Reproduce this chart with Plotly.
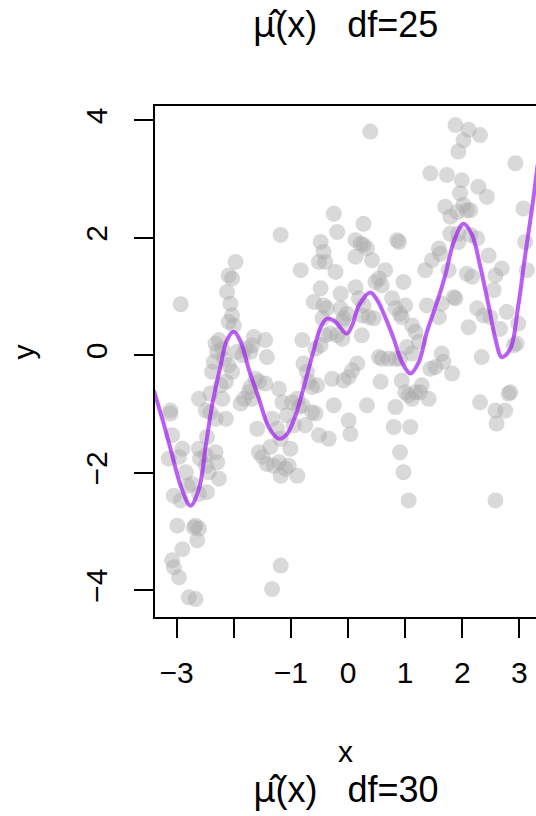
import plotly.graph_objects as go

# ---- data ----
x_pts = [-3.11, -3.11, -3.08, -2.93, -2.90, -3.14, -2.96, -3.05, -2.93, -2.84,
         -2.81, -2.73, -2.61, -2.47, -2.59, -2.49, -2.44, -2.49, -2.32, -2.29,
         -2.26, -2.47, -2.61, -2.99, -2.67, -2.70, -2.61, -2.64, -2.90, -3.08,
         -3.05, -2.96, -2.79, -2.67, -2.61, -2.41, -2.49, -2.20, -2.14, -2.32,
         -2.41, -2.38, -2.35, -2.29, -2.32, -2.26, -2.20, -2.17, -2.23, -2.14,
         -2.03, -2.09, -2.03, -1.97, -2.12, -2.06, -2.03, -2.09, -2.00, -2.09,
         -1.88, -1.82, -1.74, -1.94, -1.85, -1.79, -1.71, -1.65, -1.45, -1.42,
         -1.68, -1.62, -1.56, -1.45, -1.71, -1.68, -1.59, -1.56, -1.50, -1.42,
         -1.30, -1.21, -1.18, -1.10, -1.04, -1.01, -0.89, -1.36, -1.33, -1.24,
         -1.18, -1.21, -1.15, -1.07, -1.18, -1.18, -1.33, -0.98, -0.89, -0.86,
         -0.80, -0.75, -0.95, -0.63, -0.57, -0.83, -0.80, -0.78, -0.72, -0.69,
         -0.63, -0.54, -0.60, -0.48, -0.51, -0.48, -0.43, -0.40, -0.51, -0.34,
         -0.43, -0.45, -0.37, -0.57, -0.48, -0.40, -0.31, -0.25, -0.19, -0.22,
         -0.13, -0.13, -0.08, -0.02, -0.19, -0.10, -0.10, -0.28, -0.25, -0.08,
         0.01, 0.07, 0.16, 0.01, 0.04, 0.27, 0.13, 0.22, 0.27, 0.13,
         0.33, 0.42, 0.13, 0.19, 0.27, 0.24, 0.36, 0.45, 0.24, 0.48,
         0.54, 0.65, 0.59, 0.54, 0.59, 0.71, 0.83, 0.57, 0.33, 0.39,
         0.77, 0.83, 0.91, 0.94, 0.97, 0.86, 0.89, 1.00, 1.12, 1.18,
         1.24, 1.03, 1.12, 0.91, 0.94, 1.00, 1.06, 1.12, 1.18, 1.26,
         1.29, 1.41, 0.83, 0.80, 1.09, 0.91, 0.97, 1.06, 1.44, 1.47,
         1.35, 1.38, 1.59, 1.61, 1.44, 1.53, 1.64, 1.67, 1.82, 1.59,
         1.64, 1.73, 1.76, 1.85, 1.88, 1.70, 1.79, 1.91, 1.93, 1.99,
         1.96, 2.02, 2.08, 2.14, 1.88, 2.11, 2.02, 1.93, 2.31, 1.79,
         1.93, 2.14, 2.26, 2.28, 2.43, 2.46, 2.08, 2.17, 2.26, 2.37,
         2.49, 2.55, 2.11, 2.34, 2.31, 2.58, 2.69, 2.78, 2.66, 2.90,
         2.95, 2.98, 2.93, 3.07, 3.10, 3.13, 2.58, 2.75, 2.81, 2.84,
         2.60, 2.58]
y_pts = [-0.94, -0.99, -1.36, 0.87, -1.59, -1.76, -1.73, -2.39, -2.47, -1.99,
         -2.22, -2.19, -1.59, -1.39, -1.76, -1.88, -1.99, -1.70, -1.65, -1.82,
         -2.10, -2.33, -2.36, -2.90, -2.90, -2.93, -2.95, -3.15, -3.30, -3.49,
         -3.61, -3.78, -4.12, -4.15, -0.74, -0.65, -0.94, -0.74, -1.08, -1.08,
         -0.97, -0.28, -0.11, 0.06, 0.20, 0.26, 0.11, -0.06, -0.51, -0.45,
         -0.28, 1.36, 1.31, 1.59, 1.08, 0.88, 0.68, 0.57, 0.51, -0.17,
         -0.82, -0.74, -0.63, 0.06, 0.00, 0.11, 0.06, 0.31, 0.26, -0.03,
         0.17, -0.40, -0.45, -0.48, -0.54, -0.74, -1.25, -1.65, -1.73, -1.85,
         -1.88, -1.82, -2.05, -1.93, -1.88, -1.59, -2.05, -1.56, -1.08, -1.25,
         -1.42, -0.57, -0.80, -1.02, 2.05, -3.58, -3.98, -0.80, -0.74, -0.88,
         -0.85, -1.19, -1.19, -0.97, -0.99, 1.45, 0.26, -0.14, -0.28, -0.45,
         -0.54, -0.51, 0.91, 1.14, 1.59, 1.93, 1.76, 1.59, -1.36, -1.42,
         0.85, 0.63, 0.80, 0.11, 0.17, 0.34, 0.37, 2.41, 2.10, 1.42,
         1.05, 0.80, 0.63, 0.71, 0.34, 0.28, 0.57, -0.40, -0.85, -0.43,
         -0.37, -0.26, -0.14, -1.11, -1.34, 2.24, 1.96, 1.90, 1.88, 1.68,
         1.82, 1.62, 1.16, 0.97, 0.85, 0.68, 0.65, 0.63, 0.34, 1.25,
         1.31, 1.45, 1.19, -0.03, -0.06, -0.06, -0.06, -0.45, -0.85, 3.81,
         0.97, 0.80, 0.71, 0.65, 1.25, 1.96, 1.93, 0.85, 0.51, 0.40,
         0.23, 0.14, 0.03, -0.06, -0.43, -0.63, -0.68, -0.74, -0.63, -0.63,
         -0.51, -0.74, -0.88, -1.22, -1.22, -1.65, -1.99, -2.47, 3.10, 1.62,
         1.45, 0.85, 1.82, 1.73, -0.23, -0.20, 0.03, -0.11, -0.31, 0.65,
         0.88, 3.07, 1.45, 0.99, 0.97, 2.53, 2.36, 2.44, 2.07, 2.98,
         2.76, 2.56, 2.47, 2.47, 3.92, 3.84, 3.66, 3.47, 3.75, 2.07,
         1.93, 2.05, 1.99, 2.87, 2.70, 1.70, 1.39, 1.34, 0.80, 0.68,
         0.65, 1.11, 0.48, -0.03, -0.80, 1.36, 1.48, 0.74, 0.45, 0.17,
         0.20, 0.54, 3.27, 2.50, 1.93, 1.45, -0.94, -0.94, -0.65, -0.63,
         -1.16, -2.47]

curve_x = [-3.40, -3.22, -3.08, -2.93, -2.76, -2.61, -2.49, -2.38, -2.23, -2.12,
           -2.00, -1.88, -1.74, -1.56, -1.39, -1.21, -1.07, -0.92, -0.75, -0.60,
           -0.48, -0.37, -0.22, -0.10, -0.02, 0.07, 0.19, 0.39, 0.51, 0.65,
           0.80, 0.94, 1.09, 1.24, 1.38, 1.56, 1.70, 1.85, 2.02, 2.17,
           2.31, 2.46, 2.58, 2.69, 2.84, 2.98, 3.10, 3.22, 3.32]
curve_y = [-0.60, -1.19, -1.70, -2.22, -2.56, -2.27, -1.53, -0.85, -0.17, 0.26,
           0.40, 0.23, -0.23, -0.74, -1.22, -1.42, -1.34, -1.02, -0.45, 0.09,
           0.48, 0.625, 0.57, 0.43, 0.37, 0.51, 0.85, 1.07, 0.94, 0.65,
           0.28, -0.11, -0.31, -0.11, 0.40, 0.91, 1.36, 1.93, 2.24, 2.05,
           1.53, 0.85, 0.28, -0.03, 0.11, 0.85, 1.70, 2.50, 3.25]

xtick_vals = [-3, -2, -1, 0, 1, 2, 3]
xtick_text = ["\u22123", "", "\u22121", "0", "1", "2", "3"]
ytick_vals = [-4, -2, 0, 2, 4]
ytick_text = ["\u22124", "\u22122", "0", "2", "4"]

MU_HAT = "<span style='font-family:Noto Sans, DejaVu Sans'>\u03bc\u0302</span>"
title_top = MU_HAT + "(x)\u00a0\u00a0\u00a0df=25"
title_bottom = MU_HAT + "(x)\u00a0\u00a0\u00a0df=30"

FONT = "Liberation Sans, Arial, Helvetica, sans-serif"

fig = go.Figure()
fig.add_trace(go.Scatter(
    x=x_pts, y=y_pts, mode="markers",
    marker=dict(size=16, color="rgba(170,170,170,0.45)", line=dict(width=0)),
    hoverinfo="skip"))
fig.add_trace(go.Scatter(
    x=curve_x, y=curve_y, mode="lines",
    line=dict(color="rgba(160,32,240,0.72)", width=4, shape="spline", smoothing=1.0),
    hoverinfo="skip"))

fig.update_layout(
    width=536, height=816,
    margin=dict(l=155, r=0, t=106, b=199, pad=0),
    paper_bgcolor="white", plot_bgcolor="white",
    showlegend=False,
    font=dict(family=FONT, size=30, color="black"),
    title=dict(text=title_top, x=0.5, xref="paper", xanchor="center",
               y=1 - 24 / 816, yref="container", yanchor="middle",
               font=dict(family=FONT, size=36, color="black")),
)
fig.update_xaxes(
    range=[-3.38, 3.29], tickmode="array", tickvals=xtick_vals, ticktext=xtick_text,
    ticks="outside", ticklen=19, tickwidth=2, tickcolor="black",
    showline=True, linewidth=2, linecolor="black", mirror=True,
    showgrid=False, zeroline=False, ticklabelstandoff=9,
    tickfont=dict(family=FONT, size=30, color="black"))
fig.update_yaxes(
    range=[-4.455, 4.245], tickmode="array", tickvals=ytick_vals, ticktext=ytick_text,
    ticks="outside", ticklen=19, tickwidth=2, tickcolor="black",
    showline=True, linewidth=2, linecolor="black", mirror=False,
    showgrid=False, zeroline=False, tickangle=-90, ticklabelstandoff=15,
    tickfont=dict(family=FONT, size=30, color="black"))

fig.add_annotation(text="y", xref="paper", yref="y", x=0, y=0.05, xanchor="center",
                   yanchor="middle", xshift=-132, textangle=-90, showarrow=False,
                   font=dict(family=FONT, size=30, color="black"))
fig.add_annotation(text="x", xref="paper", yref="paper", x=0.5, y=(617 - 751) / 511,
                   xanchor="center", yanchor="middle", showarrow=False,
                   font=dict(family=FONT, size=30, color="black"))
fig.add_annotation(text=title_bottom, xref="paper", yref="paper", x=0.5,
                   y=(617 - 788) / 511, xanchor="center", yanchor="middle",
                   showarrow=False, font=dict(family=FONT, size=36, color="black"))

fig.write_html("out.html")
